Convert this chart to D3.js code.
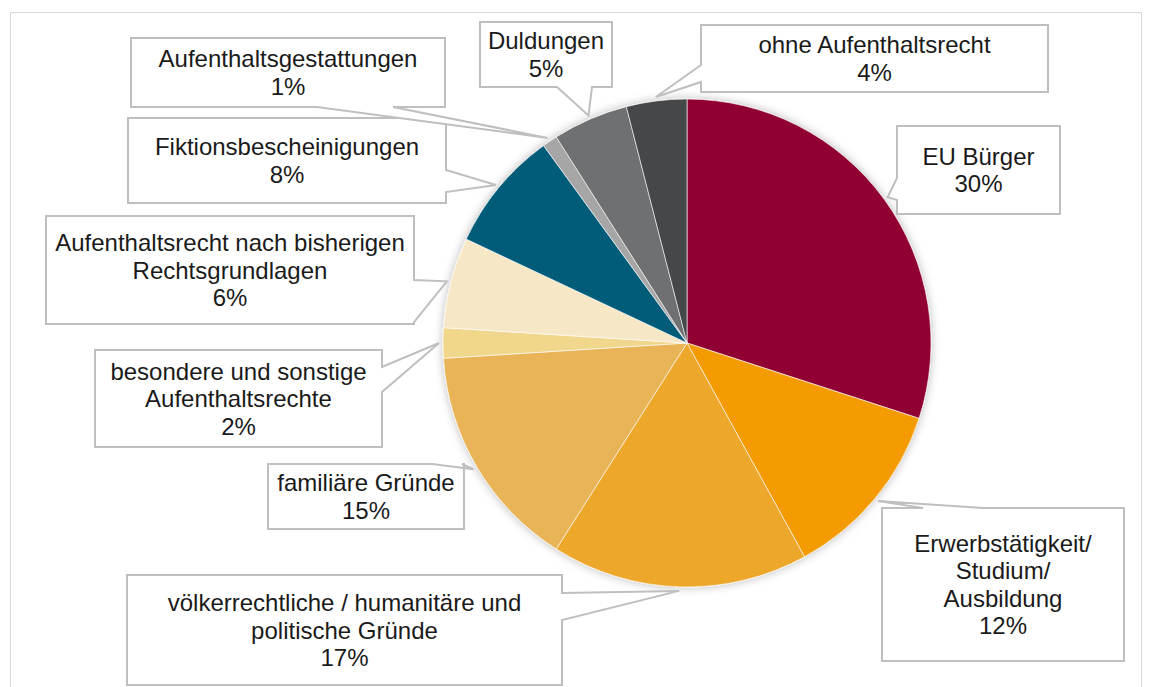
<!DOCTYPE html>
<html>
<head>
<meta charset="utf-8">
<script src="https://cdn.jsdelivr.net/npm/d3@7"></script>
<style>
  body { margin: 0; background: #fff; }
  text { font-family: "Liberation Sans", Arial, sans-serif; }
</style>
</head>
<body>
<script>
// categories and shares (percent), clockwise from 12 o'clock
var categories = [
  "EU Bürger",
  "Erwerbstätigkeit/\nStudium/\nAusbildung",
  "völkerrechtliche / humanitäre und\npolitische Gründe",
  "familiäre Gründe",
  "besondere und sonstige\nAufenthaltsrechte",
  "Aufenthaltsrecht nach bisherigen\nRechtsgrundlagen",
  "Fiktionsbescheinigungen",
  "Aufenthaltsgestattungen",
  "Duldungen",
  "ohne Aufenthaltsrecht"
];
var values = [30, 12, 17, 15, 2, 6, 8, 1, 5, 4];
var colors = ["#900030", "#f39b00", "#eda72b", "#e9b459", "#f1d78b",
              "#f6e8c6", "#005b78", "#a6a6a6", "#6e6f71", "#45464a"];

// callout boxes: x, y, w, h, side of the pointer and where its base sits on that side
var callouts = [
  {x: 897, y: 126, w: 163, h: 88,  side: "left",   a: 178, b: 200},
  {x: 882, y: 508, w: 242, h: 153, side: "top",    a: 923, b: 983},
  {x: 127, y: 575, w: 435, h: 110, side: "right",  a: 593, b: 620},
  {x: 268, y: 464, w: 196, h: 65,  side: "top",    a: 432, b: 462},
  {x: 95,  y: 350, w: 287, h: 97,  side: "right",  a: 367, b: 392},
  {x: 46,  y: 216, w: 368, h: 108, side: "right",  a: 280, b: 322},
  {x: 128, y: 118, w: 318, h: 85,  side: "right",  a: 170, b: 192},
  {x: 131, y: 38,  w: 314, h: 69,  side: "bottom", a: 317, b: 393},
  {x: 480, y: 22,  w: 132, h: 65,  side: "bottom", a: 557, b: 592},
  {x: 701, y: 25,  w: 347, h: 67,  side: "left",   a: 65,  b: 82}
];

var width = 1151, height = 687;
var cx = 687, cy = 343, radius = 244;

var svg = d3.select("body")
            .append("svg")
            .attr("width", width)
            .attr("height", height);

var defs = svg.append("defs");
var shadow = defs.append("filter")
                 .attr("id", "shadow")
                 .attr("x", "-10%").attr("y", "-10%")
                 .attr("width", "120%").attr("height", "120%");
shadow.append("feDropShadow")
      .attr("dx", 0).attr("dy", 0)
      .attr("stdDeviation", 5)
      .attr("flood-color", "#000")
      .attr("flood-opacity", 0.28);

// outer chart frame
svg.append("rect")
   .attr("x", 10.5).attr("y", 12.5)
   .attr("width", 1131).attr("height", 700)
   .attr("fill", "none")
   .attr("stroke", "#d9d9d9")
   .attr("stroke-width", 1);

var pie = d3.pie().sort(null).value(function(d) { return d; });
var arcs = pie(values);

var arc = d3.arc().innerRadius(0).outerRadius(radius);
var tipArc = d3.arc().innerRadius(radius + 4).outerRadius(radius + 4);

var g = svg.append("g")
           .attr("transform", "translate(" + cx + "," + cy + ")");

g.append("g")
 .attr("filter", "url(#shadow)")
 .selectAll("path")
 .data(arcs)
 .enter().append("path")
 .attr("d", arc)
 .attr("fill", function(d, i) { return colors[i]; })
 .attr("stroke", "#ffffff")
 .attr("stroke-opacity", 0.6)
 .attr("stroke-width", 1);

function calloutPath(c, tip) {
  var x = c.x, y = c.y, r = c.x + c.w, b = c.y + c.h;
  var p = d3.path();
  p.moveTo(x, y);
  if (c.side === "top") { p.lineTo(c.a, y); p.lineTo(tip[0], tip[1]); p.lineTo(c.b, y); }
  p.lineTo(r, y);
  if (c.side === "right") { p.lineTo(r, c.a); p.lineTo(tip[0], tip[1]); p.lineTo(r, c.b); }
  p.lineTo(r, b);
  if (c.side === "bottom") { p.lineTo(c.b, b); p.lineTo(tip[0], tip[1]); p.lineTo(c.a, b); }
  p.lineTo(x, b);
  if (c.side === "left") { p.lineTo(x, c.b); p.lineTo(tip[0], tip[1]); p.lineTo(x, c.a); }
  p.closePath();
  return p.toString();
}

var labels = svg.append("g")
                .selectAll(".callout")
                .data(arcs)
                .enter().append("g")
                .attr("class", "callout");

labels.append("path")
      .attr("d", function(d, i) {
        var t = tipArc.centroid(d);
        return calloutPath(callouts[i], [t[0] + cx, t[1] + cy]);
      })
      .attr("fill", "#ffffff")
      .attr("stroke", "#bfbfbf")
      .attr("stroke-width", 2)
      .attr("stroke-linejoin", "miter");

var lineH = 27.5;
labels.append("text")
      .attr("text-anchor", "middle")
      .attr("font-size", "24px")
      .attr("fill", "#1a1a1a")
      .each(function(d, i) {
        var c = callouts[i];
        var lines = categories[i].split("\n").concat([d.data + "%"]);
        var x0 = c.x + c.w / 2;
        var y0 = c.y + c.h / 2 - (lines.length - 1) / 2 * lineH + 8.5;
        var t = d3.select(this);
        lines.forEach(function(s, k) {
          t.append("tspan")
           .attr("x", x0)
           .attr("y", y0 + k * lineH)
           .text(s);
        });
      });
</script>
</body>
</html>
